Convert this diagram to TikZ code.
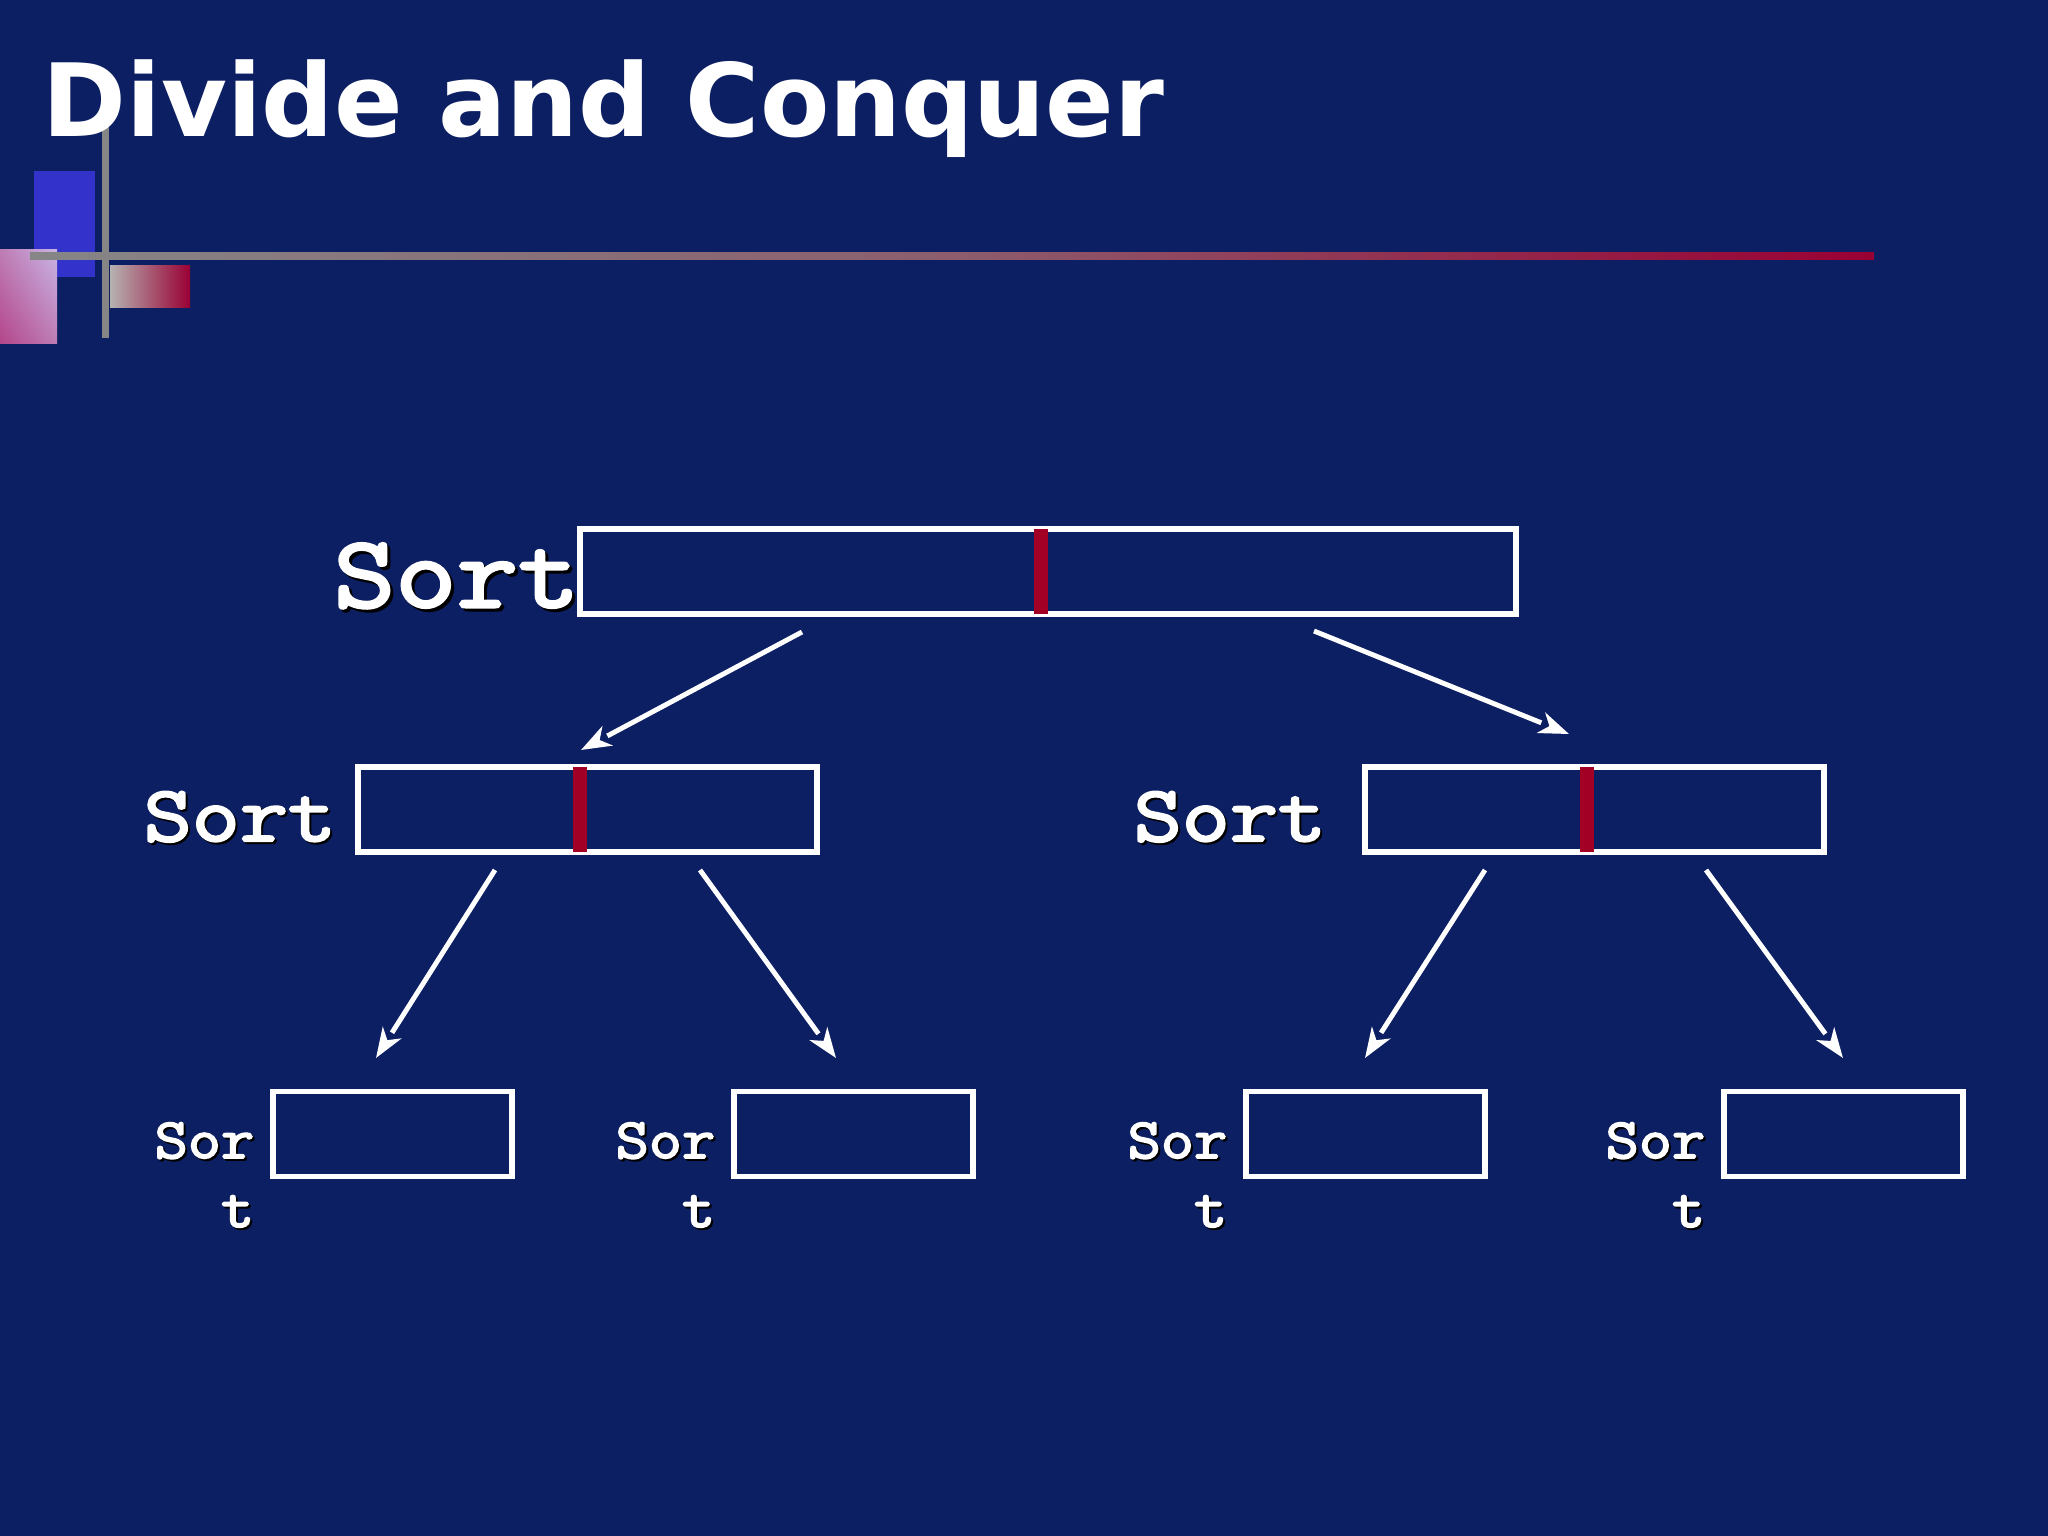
\documentclass[tikz,border=0pt]{standalone}
\usepackage{fontspec}
\setmainfont{DejaVu Sans}
\newfontfamily\sortbigfont[FakeBold=3,FakeStretch=1.17]{Latin Modern Mono}
\newfontfamily\sortmidfont[FakeBold=3,FakeStretch=1.18]{Latin Modern Mono}
\newfontfamily\sortsmallfont[FakeBold=3,FakeStretch=1.13]{Latin Modern Mono}
\usetikzlibrary{arrows.meta,shadings}
\definecolor{slidebg}{RGB}{12,31,99}
\definecolor{slideblue}{RGB}{51,51,204}
\definecolor{slidered}{RGB}{153,0,51}
\definecolor{slidegray}{RGB}{134,134,134}
\definecolor{barred}{RGB}{163,0,38}
\definecolor{pinklow}{RGB}{180,70,140}
\definecolor{pinkmid}{RGB}{190,125,180}
\definecolor{pinkhigh}{RGB}{200,180,230}
\definecolor{ribbongray}{RGB}{182,178,178}
\tikzset{
    x=0.01cm,y=-0.01cm,
    arraybox/.style={draw=white,line width=1.45pt,inner sep=0pt,outer sep=0pt,minimum height=85*0.01cm},
    splitbar/.style={fill=barred,draw=none,inner sep=0pt,outer sep=0pt,minimum width=14*0.01cm,minimum height=85*0.01cm},
    bigsort/.style={anchor=base west,inner sep=0pt,text=white,font=\fontsize{29pt}{30pt}\sortbigfont\selectfont},
    midsort/.style={anchor=base west,inner sep=0pt,text=white,font=\fontsize{22.5pt}{24pt}\sortmidfont\selectfont},
    smallsort/.style={anchor=base west,inner sep=0pt,text=white,align=right,font=\fontsize{16.2pt}{19.6pt}\sortsmallfont\selectfont},
    splitarrow/.style={draw=white,line width=1.4pt,-{.[sep=2pt] Stealth[length=8.5pt,width=6.2pt,inset=2.5pt]}}
}
\begin{document}
\begin{tikzpicture}
    \useasboundingbox (0,0) rectangle (2048,1536);
    \fill[slidebg] (0,0) rectangle (2048,1536);

    \fill[slideblue] (34,171) rectangle (95,277);
    \shade[lower left=pinklow,upper right=pinkhigh,lower right=pinkmid,upper left=pinkmid] (0,249) rectangle (57,343);
    \shade[left color=ribbongray,right color=slidered] (110,265) rectangle (190,307);
    \fill[slidegray] (102,125) rectangle (109,338);
    \shade[left color=slidegray,right color=slidered,middle color=slidegray!70!slidered] (30,252) rectangle (1874,259);

    \node[anchor=base west,inner sep=0pt,text=white,font=\fontsize{28.75pt}{32pt}\bfseries\selectfont] (title) at (42,136) {Divide and Conquer};

    \node[arraybox,minimum width=936*0.01cm] (top) at (1048,571.5) {};
    \node[splitbar] (topbar) at (1041,571.5) {};
    \node[arraybox,minimum width=459*0.01cm] (midl) at (587.5,809.5) {};
    \node[splitbar] (midlbar) at (580,809.5) {};
    \node[arraybox,minimum width=459*0.01cm] (midr) at (1594.5,809.5) {};
    \node[splitbar] (midrbar) at (1587,809.5) {};
    \node[arraybox,minimum width=239*0.01cm] (leafa) at (392.5,1134) {};
    \node[arraybox,minimum width=239*0.01cm] (leafb) at (853.5,1134) {};
    \node[arraybox,minimum width=239*0.01cm] (leafc) at (1365.5,1134) {};
    \node[arraybox,minimum width=239*0.01cm] (leafd) at (1843.5,1134) {};

    \node[bigsort,text=black] (topshadow) at (336,610) {Sort};
    \node[bigsort] (toplabel) at (333,607) {Sort};
    \node[midsort,text=black] (midlshadow) at (145,843) {Sort};
    \node[midsort] (midllabel) at (143,841) {Sort};
    \node[midsort,text=black] (midrshadow) at (1135,843) {Sort};
    \node[midsort] (midrlabel) at (1133,841) {Sort};
    \node[smallsort,text=black] (leafashadow) at (156,1229) {Sor\\t};
    \node[smallsort] (leafalabel) at (154,1227) {Sor\\t};
    \node[smallsort,text=black] (leafbshadow) at (617,1229) {Sor\\t};
    \node[smallsort] (leafblabel) at (615,1227) {Sor\\t};
    \node[smallsort,text=black] (leafcshadow) at (1129,1229) {Sor\\t};
    \node[smallsort] (leafclabel) at (1127,1227) {Sor\\t};
    \node[smallsort,text=black] (leafdshadow) at (1607,1229) {Sor\\t};
    \node[smallsort] (leafdlabel) at (1605,1227) {Sor\\t};

    \coordinate (fromtopl) at (802,632);
    \coordinate (totopl) at (581,750);
    \coordinate (fromtopr) at (1314,631);
    \coordinate (totopr) at (1569,734);
    \coordinate (frommidla) at (495,870);
    \coordinate (tomidla) at (376,1058);
    \coordinate (frommidlb) at (700,870);
    \coordinate (tomidlb) at (836,1058);
    \coordinate (frommidra) at (1485,870);
    \coordinate (tomidra) at (1365,1058);
    \coordinate (frommidrb) at (1706,870);
    \coordinate (tomidrb) at (1843,1058);
    \draw[splitarrow] (fromtopl) -- (totopl);
    \draw[splitarrow] (fromtopr) -- (totopr);
    \draw[splitarrow] (frommidla) -- (tomidla);
    \draw[splitarrow] (frommidlb) -- (tomidlb);
    \draw[splitarrow] (frommidra) -- (tomidra);
    \draw[splitarrow] (frommidrb) -- (tomidrb);
\end{tikzpicture}
\end{document}
